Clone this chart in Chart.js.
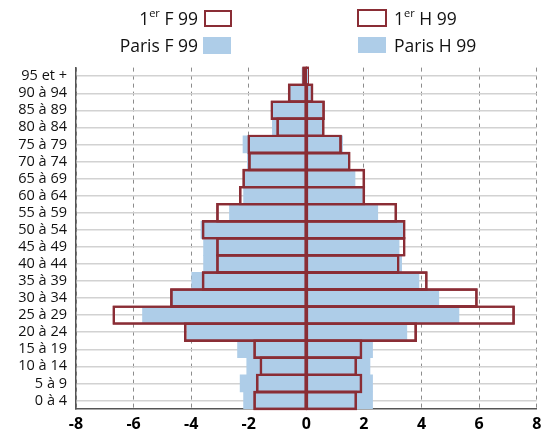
<!DOCTYPE html>
<html>
<head>
<meta charset="utf-8">
<script src="https://cdn.jsdelivr.net/npm/chart.js@4"></script>
<style>
  html,body{margin:0;padding:0;background:#fff;}
  #wrap{position:relative;width:542px;height:436px;}
  canvas{position:absolute;left:0;top:0;}
  .lg{position:absolute;font-family:"Open Sans",sans-serif;font-size:17.5px;color:#111;line-height:20px;white-space:nowrap;}
  .lg sup{font-size:11px;line-height:0;position:relative;top:-1px;vertical-align:super;}
  .bx{position:absolute;box-sizing:border-box;}
</style>
</head>
<body>
<div id="wrap">
  <canvas id="c" width="542" height="436"></canvas>
  <div id="legend"></div>
</div>
<script>
const categories = ['95 et +','90 à 94','85 à 89','80 à 84','75 à 79','70 à 74','65 à 69','60 à 64','55 à 59','50 à 54','45 à 49','40 à 44','35 à 39','30 à 34','25 à 29','20 à 24','15 à 19','10 à 14','5 à 9','0 à 4'];
const firstF = [-0.1,-0.6,-1.2,-1.0,-2.0,-1.98,-2.18,-2.3,-3.09,-3.59,-3.09,-3.09,-3.59,-4.69,-6.69,-4.21,-1.8,-1.58,-1.71,-1.8];
const firstH = [0.05,0.2,0.6,0.59,1.19,1.49,2.0,2.0,3.11,3.4,3.4,3.19,4.17,5.91,7.2,3.8,1.9,1.72,1.9,1.72];
const parisF = [-0.15,-0.58,-1.19,-1.18,-2.2,-2.05,-2.12,-2.18,-2.67,-3.66,-3.57,-3.57,-3.98,-4.67,-5.69,-4.15,-2.39,-2.07,-2.3,-2.18];
const parisH = [0.05,0.15,0.53,0.57,1.26,1.45,1.69,1.95,2.48,3.36,3.22,3.31,3.91,4.6,5.3,3.49,2.3,2.21,2.3,2.3];
const xTicks = [-8,-6,-4,-2,0,2,4,6,8];
const seriesLabels = ['1er F 99','1er H 99','Paris F 99','Paris H 99'];

const RED = '#8a2d35';
const BLUE = '#aecde8';

const outline = {
  type:'bar', backgroundColor:'rgba(0,0,0,0)', borderColor:RED,
  borderWidth:0.01, inflateAmount:1.2, borderSkipped:false, grouped:false,
  barPercentage:1, categoryPercentage:1, clip:false
};
const filled = {
  type:'bar', backgroundColor:BLUE, borderWidth:0, grouped:false,
  barPercentage:1, categoryPercentage:1
};

const redrawOutlines = {
  id:'redrawOutlines',
  afterDraw(chart){
    [1,0].forEach(i=>{
      const meta = chart.getDatasetMeta(i);
      if (!meta.hidden) meta.controller.draw();
    });
  }
};

new Chart(document.getElementById('c'), {
  type:'bar',
  data:{
    labels:categories,
    datasets:[
      Object.assign({label:seriesLabels[0], data:firstF}, outline),
      Object.assign({label:seriesLabels[1], data:firstH}, outline),
      Object.assign({label:seriesLabels[2], data:parisF}, filled),
      Object.assign({label:seriesLabels[3], data:parisH}, filled)
    ]
  },
  options:{
    indexAxis:'y',
    responsive:false,
    animation:false,
    layout:{padding:{top:67.6,right:5.3,left:0,bottom:0}},
    plugins:{legend:{display:false},tooltip:{enabled:false}},
    scales:{
      x:{
        type:'linear', min:xTicks[0], max:xTicks[xTicks.length-1],
        afterBuildTicks(s){ s.ticks = xTicks.map(v=>({value:v})); },
        afterFit(s){ s.height = 27; s.paddingLeft = 0; s.paddingRight = 0; },
        z:1,
        grid:{color:'#8c8c8c', lineWidth:1, drawTicks:false},
        border:{display:true, color:'#555', width:1.5, dash:[4,4]},
        ticks:{padding:6, color:'#000', font:{family:'Open Sans', size:16, weight:'bold'}}
      },
      y:{
        type:'category',
        afterFit(s){ s.width = 76; s.paddingTop = 0; s.paddingBottom = 0; },
        z:1,
        grid:{offset:false, color:'#d2d2d2', lineWidth:1.4, drawTicks:false},
        border:{display:true, color:'#555', width:1.5},
        ticks:{autoSkip:false, padding:9, color:'#111', font:{family:'Open Sans', size:14.5}}
      }
    }
  },
  plugins:[redrawOutlines]
});

// HTML legend (real text)
const lg = document.getElementById('legend');
function fmt(s){ return s.replace(/^1er/, '1<sup>er</sup>'); }
const entries = [
  {label:seriesLabels[0], side:'left', y:18, box:{x:204,y:9.5,w:28,h:17}, out:true},
  {label:seriesLabels[2], side:'left', y:45, box:{x:203,y:37,w:28,h:16.5}, out:false},
  {label:seriesLabels[1], side:'right', y:18, box:{x:357,y:9,w:29.5,h:17.5}, out:true},
  {label:seriesLabels[3], side:'right', y:45, box:{x:358,y:36.5,w:27.5,h:16.5}, out:false}
];
entries.forEach(e=>{
  const b = document.createElement('div');
  b.className='bx';
  Object.assign(b.style,{left:e.box.x+'px',top:e.box.y+'px',width:e.box.w+'px',height:e.box.h+'px'});
  if (e.out){ b.style.border='2.4px solid '+RED; b.style.background='#fff'; }
  else { b.style.background=BLUE; }
  lg.appendChild(b);
  const t = document.createElement('div');
  t.className='lg';
  t.innerHTML = fmt(e.label);
  t.style.top = (e.y-10)+'px';
  if (e.side==='left'){ t.style.right = (542-198)+'px'; t.style.textAlign='right'; }
  else { t.style.left = '394px'; }
  lg.appendChild(t);
});
</script>
</body>
</html>
